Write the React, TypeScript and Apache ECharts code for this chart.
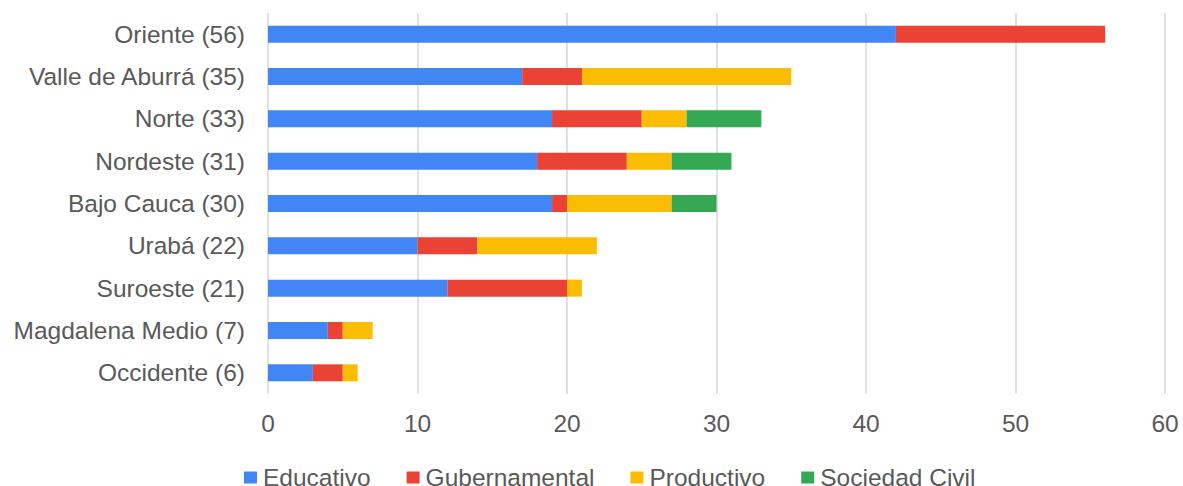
import React, { useEffect, useRef } from "react";
import * as echarts from "echarts";

const categories = [
  "Oriente (56)",
  "Valle de Aburrá (35)",
  "Norte (33)",
  "Nordeste (31)",
  "Bajo Cauca (30)",
  "Urabá (22)",
  "Suroeste (21)",
  "Magdalena Medio (7)",
  "Occidente (6)",
];

const educativo = [42, 17, 19, 18, 19, 10, 12, 4, 3];
const gubernamental = [14, 4, 6, 6, 1, 4, 8, 1, 2];
const productivo = [0, 14, 3, 3, 7, 8, 1, 2, 1];
const sociedadCivil = [0, 0, 5, 4, 3, 0, 0, 0, 0];

const seriesNames = ["Educativo", "Gubernamental", "Productivo", "Sociedad Civil"];
const seriesColors = ["#4285F4", "#EA4335", "#FBBC04", "#34A853"];
const seriesData = [educativo, gubernamental, productivo, sociedadCivil];

const FONT = "'Liberation Sans', Arial, sans-serif";
const TEXT_COLOR = "#595959";
const FONT_SIZE = 24.5;

export default function App() {
  const ref = useRef<HTMLDivElement>(null);

  useEffect(() => {
    document.body.style.margin = "0";
    if (!ref.current) return;
    const chart = echarts.init(ref.current, null, { renderer: "svg" });
    chart.setOption({
      animation: false,
      backgroundColor: "#ffffff",
      textStyle: { fontFamily: FONT },
      grid: { left: 268, right: 18, top: 13, bottom: 92, containLabel: false },
      legend: {
        top: 465,
        left: 244,
        padding: 0,
        icon: "rect",
        itemWidth: 13,
        itemHeight: 12,
        itemGap: 36,
        textStyle: {
          fontSize: FONT_SIZE,
          lineHeight: 22,
          color: TEXT_COLOR,
          fontFamily: FONT,
          padding: [0, 0, 0, 1],
        },
        data: seriesNames,
      },
      xAxis: {
        type: "value",
        min: 0,
        max: 60,
        interval: 10,
        axisLine: { show: false },
        axisTick: { show: false },
        axisLabel: { fontSize: FONT_SIZE, color: TEXT_COLOR, margin: 17, fontFamily: FONT },
        splitLine: { show: true, lineStyle: { color: "#e0e0e0", width: 2 } },
      },
      yAxis: {
        type: "category",
        data: categories,
        inverse: true,
        axisLine: { show: false },
        axisTick: { show: false },
        axisLabel: { fontSize: FONT_SIZE, color: TEXT_COLOR, margin: 23, fontFamily: FONT },
        splitLine: { show: false },
      },
      series: seriesData.map((d, i) => ({
        name: seriesNames[i],
        type: "bar",
        stack: "total",
        data: d,
        barWidth: 17,
        itemStyle: { color: seriesColors[i] },
      })),
    });
    return () => chart.dispose();
  }, []);

  return <div ref={ref} style={{ width: 1183, height: 486 }} />;
}
